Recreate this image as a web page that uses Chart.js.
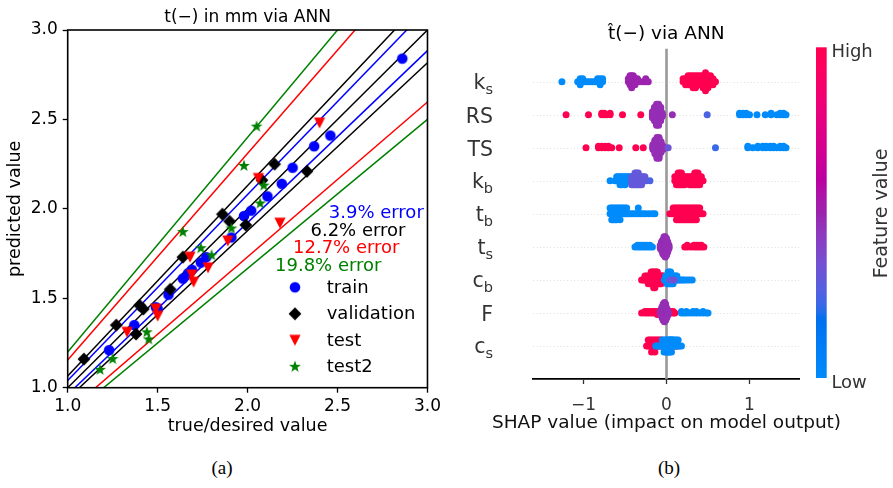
<!DOCTYPE html>
<html>
<head>
<meta charset="utf-8">
<title>ANN thickness: parity plot and SHAP summary</title>
<script src="https://cdn.jsdelivr.net/npm/chart.js@4.4.1/dist/chart.umd.min.js"></script>
<style>
    body { margin: 0; background: #fff; }
    #page { position: relative; width: 893px; height: 488px; overflow: hidden; background: #fff; }
    #parity, #shap { position: absolute; top: 0; }
    #parity { left: 0; }
    #shap { left: 445px; }
    .caption { position: absolute; top: 457px; width: 60px; text-align: center;
               font: 19px/22px "Liberation Serif", "DejaVu Serif", serif; color: #000; }
</style>
</head>
<body>
<div id="page">
    <canvas id="parity" width="445" height="445"></canvas>
    <canvas id="shap" width="448" height="445"></canvas>
    <div class="caption" style="left: 192px">(a)</div>
    <div class="caption" style="left: 639px">(b)</div>
</div>
<script>
Chart.defaults.font.family = '"DejaVu Sans", sans-serif';
Chart.defaults.color = '#000';

// ---------- (a) predicted vs true thickness ----------
const axisTicks = [1.0, 1.5, 2.0, 2.5, 3.0];
const seriesNames = ['train', 'validation', 'test', 'test2'];

const trainX = [1.23, 1.37, 1.49, 1.50, 1.56, 1.64, 1.67, 1.69, 1.74, 1.77, 1.91, 1.98, 2.02, 2.11, 2.19, 2.25, 2.37, 2.46, 2.86];
const trainY = [1.21, 1.35, 1.45, 1.44, 1.52, 1.61, 1.64, 1.66, 1.70, 1.73, 1.84, 1.96, 1.99, 2.07, 2.14, 2.23, 2.35, 2.41, 2.84];
const valX = [1.09, 1.27, 1.38, 1.40, 1.42, 1.57, 1.64, 1.86, 1.90, 1.99, 2.08, 2.15, 2.33];
const valY = [1.16, 1.35, 1.30, 1.46, 1.44, 1.55, 1.73, 1.97, 1.93, 1.91, 2.16, 2.25, 2.21];
const testX = [1.33, 1.49, 1.50, 1.68, 1.69, 1.70, 1.78, 1.89, 2.06, 2.18, 2.40];
const testY = [1.31, 1.44, 1.40, 1.73, 1.63, 1.59, 1.67, 1.82, 2.17, 1.92, 2.48];
const test2X = [1.18, 1.25, 1.44, 1.45, 1.64, 1.74, 1.80, 1.91, 1.98, 2.05, 2.07, 2.09];
const test2Y = [1.10, 1.16, 1.31, 1.27, 1.87, 1.78, 1.74, 1.89, 2.24, 2.46, 2.03, 2.13];

const errorLabels = ['3.9% error', '6.2% error', '12.7% error', '19.8% error'];
const errorColours = ['#0000ff', '#000000', '#ff0000', '#008000'];
// slope of the upper band edge (lower edge is 1/slope)
const errorFactors = [1.04, 1.065, 1.155, 1.2];

// ---------- (b) SHAP summary ----------
const featureNames = ['k', 'RS', 'TS', 'k', 't', 't', 'c', 'F', 'c'];
const featureSubs = ['s', '', '', 'b', 'b', 's', 'b', '', 's'];
const shapTicks = [-1, 0, 1];
// [shap value, number of samples at that value, normalised feature value]
const shapKs = [[-1.26,1,0],[-1.07,1,0],[-1.04,3,0],[-1.01,2,0],[-0.98,1,0],[-0.95,1,0],[-0.92,1,0],[-0.89,1,0],[-0.86,1,0],[-0.83,2,0],[-0.80,3,0],[-0.77,2,0],
    [-0.46,2,0.5],[-0.44,4,0.5],[-0.42,5,0.5],[-0.40,4,0.5],[-0.38,3,0.5],[-0.35,2,0.5],[-0.32,1,0.5],[-0.28,1,0.5],[-0.25,2,0.5],[-0.22,1,0.5],
    [0.20,2,1],[0.23,3,1],[0.26,4,1],[0.29,4,1],[0.32,5,1],[0.35,5,1],[0.38,4,1],[0.41,4,1],[0.44,5,1],[0.47,7,1],[0.50,5,1],[0.53,4,1],[0.56,3,1],[0.59,1,1]];
const shapRS = [[-1.21,1,1],[-0.94,1,1],[-0.78,2,1],[-0.75,2,1],[-0.72,1,1],[-0.68,2,1],[-0.53,1,1],[-0.31,1,1],
    [-0.17,5,0.47],[-0.145,10,0.47],[-0.12,15,0.47],[-0.095,15,0.47],[-0.07,10,0.47],[-0.05,3,0.47],[0.07,1,0.47],
    [0.49,1,0.25],
    [0.88,2,0],[0.92,2,0],[0.96,2,0],[1.00,1,0],[1.09,1,0],[1.19,1,0],[1.26,2,0],[1.33,1,0],[1.37,2,0],[1.41,2,0],[1.44,1,0]];
const shapTS = [[-0.97,1,1],[-0.82,2,1],[-0.78,2,1],[-0.74,2,1],[-0.70,2,1],[-0.66,1,1],[-0.57,1,1],[-0.37,1,1],[-0.28,1,1],
    [-0.165,4,0.47],[-0.14,10,0.47],[-0.115,15,0.47],[-0.09,15,0.47],[-0.065,8,0.47],[-0.04,3,0.47],
    [0.02,1,0.32],[0.59,1,0.22],
    [0.98,2,0],[1.04,1,0],[1.10,2,0],[1.16,2,0],[1.20,2,0],[1.25,2,0],[1.29,2,0],[1.33,1,0],[1.37,2,0],[1.41,2,0],[1.44,1,0]];
const shapKb = [[-0.68,1,0],[-0.62,1,0],[-0.60,2,0],[-0.58,2,0],[-0.56,3,0],[-0.54,3,0],[-0.52,2,0],[-0.50,3,0],[-0.48,2,0],[-0.46,2,0],[-0.44,2,0],
    [-0.42,3,0.3],[-0.40,3,0.3],[-0.38,4,0.3],[-0.36,4,0.3],[-0.34,4,0.3],[-0.32,3,0.3],[-0.30,3,0.3],[-0.28,2,0.3],[-0.26,2,0.3],[-0.24,1,0.3],[-0.20,1,0.25],
    [0.10,2,1],[0.12,3,1],[0.14,4,1],[0.16,4,1],[0.18,4,1],[0.20,3,1],[0.22,3,1],[0.24,2,1],[0.26,2,1],[0.28,3,1],[0.30,3,1],[0.32,3,1],[0.34,4,1],[0.36,4,1],[0.38,4,1],[0.40,3,1],[0.42,2,1],[0.44,1,1]];
const shapTb = [[-0.68,2,0],[-0.66,3,0],[-0.64,3,0],[-0.62,3,0],[-0.60,3,0],[-0.58,2,0],[-0.56,3,0],[-0.54,2,0],[-0.52,2,0],[-0.50,2,0],[-0.48,2,0],[-0.46,1,0],[-0.43,1,0],[-0.40,1,0],[-0.37,1,0],[-0.34,2,0],[-0.31,1,0],[-0.28,1,0],[-0.25,1,0],[-0.21,1,0],[-0.17,1,0],[-0.14,1,0],
    [0.04,1,1],[0.06,1,1],[0.08,2,1],[0.10,2,1],[0.12,3,1],[0.14,3,1],[0.16,3,1],[0.18,3,1],[0.20,3,1],[0.22,3,1],[0.24,3,1],[0.26,3,1],[0.28,3,1],[0.30,3,1],[0.32,3,1],[0.34,3,1],[0.36,3,1],[0.38,2,1],[0.40,2,1],[0.42,1,1],[0.44,1,1]];
const shapTs = [[-0.38,1,0],[-0.35,2,0],[-0.32,2,0],[-0.29,2,0],[-0.26,2,0],[-0.23,2,0],[-0.20,2,0],[-0.17,1,0],
    [-0.075,3,0.47],[-0.06,6,0.47],[-0.045,9,0.47],[-0.03,12,0.47],[-0.015,13,0.47],[0.00,11,0.47],[0.015,7,0.47],[0.03,3,0.47],
    [0.22,1,1],[0.25,2,1],[0.29,1,1],[0.33,2,1],[0.36,2,1],[0.39,2,1],[0.42,2,1],[0.45,1,1]];
const shapCb = [[-0.30,1,1],[-0.28,1,1],[-0.26,2,1],[-0.24,2,1],[-0.22,3,1],[-0.20,3,1],[-0.185,4,1],[-0.17,4,1],[-0.155,5,1],[-0.14,5,1],[-0.125,4,1],[-0.11,4,1],[-0.095,3,1],[-0.08,3,1],[-0.065,3,1],[-0.05,2,1],[-0.035,2,1],[-0.02,1,1],[0.00,1,1],[0.05,1,1],[0.07,1,1],
    [-0.025,1,0],[-0.01,2,0],[0.005,3,0],[0.02,4,0],[0.035,4,0],[0.05,3,0],[0.065,3,0],[0.08,3,0],[0.095,2,0],[0.11,2,0],[0.125,2,0],[0.14,1,0],[0.16,1,0],[0.18,1,0],[0.20,1,0],[0.22,1,0],[0.25,1,0],[0.28,1,0],[0.31,1,0],
    [0.04,1,0.3],[0.09,1,0.35]];
const shapF = [[-0.30,1,1],[-0.26,2,1],[-0.23,2,1],[-0.20,2,1],[-0.17,2,1],[-0.14,2,1],[-0.11,3,1],[-0.09,2,1],[0.05,2,1],[0.08,2,1],[0.10,1,1],
    [-0.07,4,0.47],[-0.055,8,0.47],[-0.04,12,0.47],[-0.025,14,0.47],[-0.01,12,0.47],[0.005,7,0.47],[0.02,3,0.47],
    [0.18,2,0],[0.21,1,0],[0.24,2,0],[0.28,1,0],[0.32,2,0],[0.36,2,0],[0.40,1,0],[0.44,2,0],[0.48,1,0],[0.50,1,0]];
const shapCs = [[-0.24,1,1],[-0.22,2,1],[-0.20,2,1],[-0.18,3,1],[-0.16,2,1],[-0.14,3,1],[-0.12,2,1],[-0.10,2,1],[-0.08,2,1],[-0.06,2,1],[-0.04,1,1],[-0.02,1,1],[0.01,1,1],[0.09,1,1],[0.11,1,1],[0.13,1,1],
    [-0.13,1,0],[-0.11,1,0],[-0.09,1,0],[-0.07,1,0],[-0.05,2,0],[-0.03,3,0],[-0.01,3,0],[0.00,3,0],[0.02,3,0],[0.03,3,0],[0.04,3,0],[0.05,2,0],[0.06,3,0],[0.07,2,0],[0.08,2,0],[0.10,2,0],[0.12,2,0],[0.14,2,0],[0.16,1,0],[0.18,1,0]];
const shapRows = [shapKs, shapRS, shapTS, shapKb, shapTb, shapTs, shapCb, shapF, shapCs];


// shap's red_blue colour map: Lch path from blue to red, dipping in lightness
function lchToRgb(l, c, h) {
    const a = c * Math.cos(h), b = c * Math.sin(h);
    const fy = (l + 16) / 116;
    const fx = fy + a / 500;
    const fz = Math.max(0, fy - b / 200);
    const f = t => (t > 0.2068966 ? t * t * t : (t - 16 / 116) / 7.787);
    const X = 0.95047 * f(fx), Y = f(fy), Z = 1.08883 * f(fz);
    const lin = [
        3.24048134 * X - 1.53715152 * Y - 0.49853633 * Z,
        -0.96925495 * X + 1.87599 * Y + 0.04155593 * Z,
        0.05564664 * X - 0.20404134 * Y + 1.05731107 * Z
    ];
    return lin.map(v => {
        v = v > 0.0031308 ? 1.055 * Math.pow(v, 1 / 2.4) - 0.055 : 12.92 * v;
        return 255 * Math.min(1, Math.max(0, v));
    });
}
const cmapTable = [];
for (let i = 0; i < 100; i++) {
    const t = i / 99;
    const l = i < 50 ? 54 - 14 * i / 49 : 40 + 14 * (i - 50) / 49;
    const h = 4.6588 + (0.35470565 + 2 * Math.PI - 4.6588) * t;
    cmapTable.push(lchToRgb(l, 70 + 20 * t, h));
}
function cmap(v) {
    const p = Math.min(1, Math.max(0, v)) * 99;
    const i = Math.min(98, Math.floor(p)), f = p - i;
    const a = cmapTable[i], b = cmapTable[i + 1];
    return 'rgb(' + a.map((x, k) => Math.round(x + (b[k] - x) * f)).join(',') + ')';
}

// same stacking rule as shap's beeswarm
function beeswarm(vals) {
    const mn = Math.min(...vals), mx = Math.max(...vals);
    const quant = vals.map(v => Math.round(100 * (v - mn) / (mx - mn + 1e-8)));
    const inds = vals.map((_, i) => i).sort((a, b) => quant[a] - quant[b] || a - b);
    const ys = new Array(vals.length).fill(0);
    let layer = 0, last = -1;
    inds.forEach(i => {
        if (quant[i] !== last) layer = 0;
        ys[i] = Math.ceil(layer / 2) * ((layer % 2) * 2 - 1);
        layer++;
        last = quant[i];
    });
    const top = Math.max(...ys.map(y => y + 1));
    return ys.map(y => y * 0.9 * 0.4 / top);
}

function makeMarker(shape, colour) {
    const c = document.createElement('canvas');
    c.width = 14; c.height = 14;
    const g = c.getContext('2d');
    g.fillStyle = colour;
    g.translate(7, 7);
    g.beginPath();
    if (shape === 'circle') {
        g.arc(0, 0, 5.3, 0, 2 * Math.PI);
    } else if (shape === 'diamond') {
        g.moveTo(0, -6.4); g.lineTo(6.4, 0); g.lineTo(0, 6.4); g.lineTo(-6.4, 0);
    } else if (shape === 'triangle') {
        g.moveTo(-5.6, -5.4); g.lineTo(5.6, -5.4); g.lineTo(0, 5.6);
    } else {
        for (let k = 0; k < 10; k++) {
            const r = k % 2 ? 2.5 : 6.2;
            const ang = -Math.PI / 2 + k * Math.PI / 5;
            g.lineTo(r * Math.cos(ang), r * Math.sin(ang));
        }
    }
    g.closePath();
    g.fill();
    return c;
}

function toPoints(xs, ys) {
    return xs.map((x, i) => ({ x: x, y: ys[i] }));
}

// ---------------- chart (a) ----------------
const markers = [makeMarker('circle', '#0000ff'), makeMarker('diamond', '#000000'),
                 makeMarker('triangle', '#ff0000'), makeMarker('star', '#008000')];
const seriesPoints = [toPoints(trainX, trainY), toPoints(valX, valY),
                      toPoints(testX, testY), toPoints(test2X, test2Y)];

const parityDatasets = seriesPoints.map((pts, i) => ({
    label: seriesNames[i],
    data: pts,
    pointStyle: markers[i],
    pointRadius: 5,
    order: 3 - i
}));
const lo = axisTicks[0], hi = axisTicks[axisTicks.length - 1];
parityDatasets.push({
    label: 'y = x', data: [{ x: lo, y: lo }, { x: hi, y: hi }],
    showLine: true, borderColor: '#000', borderWidth: 1.5, pointRadius: 0, order: 10
});
errorFactors.forEach((f, i) => {
    [f, 1 / f].forEach(k => parityDatasets.push({
        label: errorLabels[i], data: [{ x: lo, y: lo * k }, { x: hi, y: hi * k }],
        showLine: true, borderColor: errorColours[i], borderWidth: 1.5, pointRadius: 0, order: 10
    }));
});

const parityDecor = {
    id: 'parityDecor',
    afterDatasetsDraw(chart) {
        const { ctx, chartArea: a } = chart;
        ctx.save();
        ctx.strokeStyle = '#000';
        ctx.lineWidth = 1.6;
        ctx.strokeRect(a.left, a.top, a.right - a.left, a.bottom - a.top);
        ctx.restore();
    },
    afterDraw(chart) {
        const { ctx, chartArea: a } = chart;
        ctx.save();
        ctx.fillStyle = '#000';
        ctx.font = '17px "DejaVu Sans"';
        ctx.textAlign = 'center';
        ctx.fillText('t(\u2212) in mm via ANN', (a.left + a.right) / 2, a.top - 8.3);

        // error band notes, right aligned inside the axes
        ctx.font = '18px "DejaVu Sans"';
        ctx.textAlign = 'right';
        const noteInset = [3.7, 22, 28, 46];
        errorLabels.forEach((t, i) => {
            ctx.fillStyle = errorColours[i];
            ctx.fillText(t, a.right - noteInset[i], 218.3 + i * 17.5);
        });

        // legend
        ctx.textAlign = 'left';
        ctx.fillStyle = '#000';
        seriesNames.forEach((name, i) => {
            const y = 287.3 + i * 26.5;
            ctx.drawImage(markers[i], 295 - 7, y - 7);
            ctx.fillText(name, 326.7, y + 5.4);
        });
        ctx.restore();
    }
};

new Chart(document.getElementById('parity'), {
    type: 'scatter',
    data: { datasets: parityDatasets },
    options: {
        responsive: false,
        animation: false,
        events: [],
        layout: { padding: { left: 0, right: 16.3, top: 30, bottom: 0 } },
        plugins: { legend: { display: false }, tooltip: { enabled: false } },
        scales: {
            x: {
                type: 'linear', min: lo, max: hi,
                afterBuildTicks: s => { s.ticks = axisTicks.map(v => ({ value: v })); },
                afterFit: s => { s.height = 57.3; },
                ticks: { callback: v => v.toFixed(1), color: '#000', font: { size: 17 }, padding: 4, maxRotation: 0 },
                grid: { drawOnChartArea: false, tickLength: 5, tickColor: '#000', tickWidth: 1.3 },
                border: { display: false },
                title: { display: true, text: 'true/desired value', color: '#000', font: { size: 17.5 }, padding: { top: 0, bottom: 8.5 } }
            },
            y: {
                type: 'linear', min: lo, max: hi,
                afterBuildTicks: s => { s.ticks = axisTicks.map(v => ({ value: v })); },
                afterFit: s => { s.width = 67.7; },
                ticks: { callback: v => v.toFixed(1), color: '#000', font: { size: 17 }, padding: 5 },
                grid: { drawOnChartArea: false, tickLength: 5, tickColor: '#000', tickWidth: 1.3 },
                border: { display: false },
                title: { display: true, text: 'predicted value', color: '#000', font: { size: 17.5 }, padding: { top: 4.5, bottom: 0 } }
            }
        }
    },
    plugins: [parityDecor]
});

// ---------------- chart (b) ----------------
const shapDatasets = shapRows.map((row, r) => {
    const vals = [], levels = [];
    row.forEach(([v, n, c]) => {
        for (let k = 0; k < n; k++) { vals.push(v); levels.push(c); }
    });
    const offs = beeswarm(vals);
    return {
        label: featureNames[r] + featureSubs[r],
        data: vals.map((v, i) => ({ x: v, y: r - offs[i] })),
        pointBackgroundColor: levels.map(cmap),
        pointBorderWidth: 0,
        pointBorderColor: 'rgba(0,0,0,0)',
        pointRadius: 3.5
    };
});

const shapDecor = {
    id: 'shapDecor',
    beforeDatasetsDraw(chart) {
        const { ctx, chartArea: a, scales } = chart;
        ctx.save();
        ctx.strokeStyle = '#cccccc';
        ctx.lineWidth = 0.8;
        ctx.setLineDash([0.8, 2.6]);
        featureNames.forEach((_, i) => {
            const y = Math.round(scales.y.getPixelForValue(i)) + 0.5;
            ctx.beginPath();
            ctx.moveTo(a.left, y);
            ctx.lineTo(a.right, y);
            ctx.stroke();
        });
        ctx.setLineDash([]);
        const x0 = scales.x.getPixelForValue(0);
        ctx.strokeStyle = '#999999';
        ctx.lineWidth = 2.6;
        ctx.beginPath();
        ctx.moveTo(x0, a.top);
        ctx.lineTo(x0, a.bottom);
        ctx.stroke();
        ctx.restore();
    },
    afterDraw(chart) {
        const { ctx, chartArea: a, scales } = chart;
        ctx.save();
        ctx.fillStyle = '#000';
        ctx.font = '18.5px "DejaVu Sans"';
        ctx.textAlign = 'center';
        ctx.fillText('t\u0302(\u2212) via ANN', (a.left + a.right) / 2, 39);

        // axis title is wider than the axis, so it is drawn here without squeezing
        ctx.fillStyle = '#111';
        ctx.textBaseline = 'middle';
        ctx.fillText('SHAP value (impact on model output)', scales.x.getPixelForValue(0), 423);
        ctx.textBaseline = 'alphabetic';

        // feature names with subscripts
        const right = a.left - 40.3;
        featureNames.forEach((name, i) => {
            const sub = featureSubs[i];
            const y = scales.y.getPixelForValue(i) + (sub ? 7.3 : 8);
            ctx.fillStyle = '#333333';
            ctx.font = '14.5px "DejaVu Sans"';
            const sw = sub ? ctx.measureText(sub).width : 0;
            ctx.textAlign = 'right';
            ctx.font = '20.5px "DejaVu Sans"';
            ctx.fillText(name, right - sw, y);
            if (sub) {
                ctx.font = '14.5px "DejaVu Sans"';
                ctx.textAlign = 'left';
                ctx.fillText(sub, right - sw, y + 4.5);
            }
        });

        // colour bar
        const bx = a.right + 16.7, bw = 10.7, bt = 47.3, bb = 378;
        const grad = ctx.createLinearGradient(0, bb, 0, bt);
        for (let i = 0; i <= 60; i++) grad.addColorStop(i / 60, cmap(i / 60));
        ctx.fillStyle = grad;
        ctx.fillRect(bx, bt, bw, bb - bt);
        ctx.fillStyle = '#333333';
        ctx.font = '18px "DejaVu Sans"';
        ctx.textAlign = 'left';
        ctx.fillText('High', bx + bw + 4.7, 56.6);
        ctx.fillText('Low', bx + bw + 4.7, 388.3);
        ctx.translate(436.7, 213.5);
        ctx.rotate(-Math.PI / 2);
        ctx.textAlign = 'center';
        ctx.textBaseline = 'middle';
        ctx.font = '19px "DejaVu Sans"';
        ctx.fillText('Feature value', 0, 0);
        ctx.restore();
    }
};

new Chart(document.getElementById('shap'), {
    type: 'scatter',
    data: { datasets: shapDatasets },
    options: {
        responsive: false,
        animation: false,
        events: [],
        layout: { padding: { left: 88.3, right: 93.7, top: 48.7, bottom: 0 } },
        plugins: { legend: { display: false }, tooltip: { enabled: false } },
        scales: {
            x: {
                type: 'linear', min: -1.605, max: 1.6,
                afterBuildTicks: s => { s.ticks = shapTicks.map(v => ({ value: v })); },
                afterFit: s => { s.height = 66; },
                ticks: { callback: v => (v < 0 ? '\u2212' + Math.abs(v) : String(v)), color: '#333333', font: { size: 17 }, padding: 11 },
                grid: { drawOnChartArea: false, tickLength: 5, tickColor: '#333333', tickWidth: 1.3 },
                border: { display: true, color: '#000', width: 1.8 },
                title: { display: false }
            },
            y: { type: 'linear', min: -1, max: featureNames.length, reverse: true, display: false }
        }
    },
    plugins: [shapDecor]
});
</script>
</body>
</html>
